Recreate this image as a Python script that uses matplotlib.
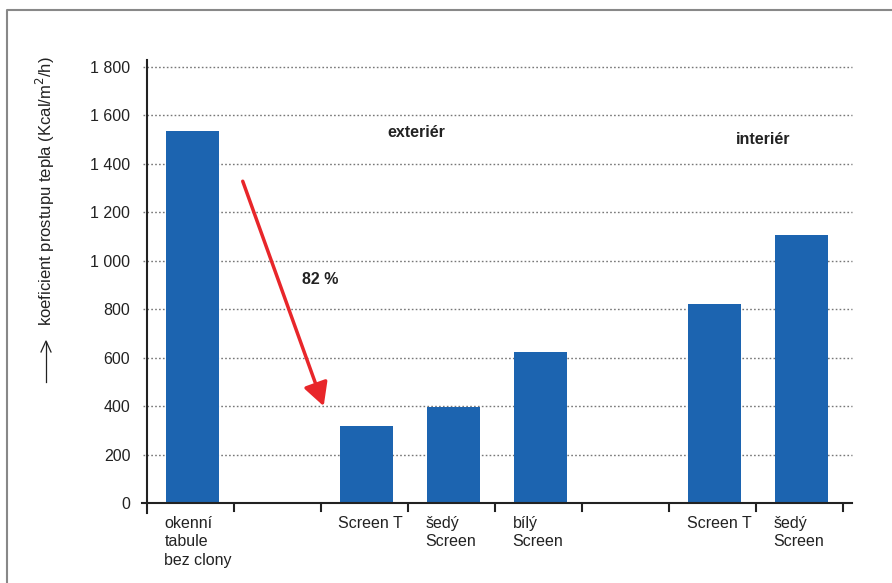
import numpy as np
import matplotlib.pyplot as plt
from matplotlib.lines import Line2D
from matplotlib.ticker import FuncFormatter

# data
labels = ["okenní\ntabule\nbez clony", "", "Screen T", "šedý\nScreen", "bílý\nScreen", "", "Screen T", "šedý\nScreen"]
values = [1535, 0, 320, 398, 625, 0, 820, 1105]
has_bar = [True, False, True, True, True, False, True, True]
yticks = [0, 200, 400, 600, 800, 1000, 1200, 1400, 1600, 1800]

bar_col = "#1c64b0"
fs = 11.5

plt.rcParams['font.family'] = ['Liberation Sans', 'DejaVu Sans']
fig = plt.figure(figsize=(8.92, 5.83), dpi=100)
ax = fig.add_axes([147/892, 1-522/583, (852-147)/892, (522-62)/583])

x = np.arange(len(values)) + 0.5
for xi, v, hb in zip(x, values, has_bar):
    if hb:
        ax.bar(xi + 0.02, v, width=0.61, color=bar_col, zorder=3)

ax.set_xlim(0, 8.1)
ax.set_ylim(-78, 1820)

# gridlines
for yt in yticks[1:]:
    ax.axhline(yt, xmin=-0.006, color="#777777", lw=1.0, ls=(0, (1.2, 1.6)), zorder=1, clip_on=False)
ax.axhline(0, xmin=-0.007, color="#222222", lw=1.5, zorder=4, clip_on=False)

for s in ["top", "right", "bottom"]:
    ax.spines[s].set_visible(False)
ax.spines["left"].set_bounds(-40, 1830)
ax.spines["left"].set_linewidth(1.5)
ax.spines["left"].set_color("#222222")

ax.set_yticks(yticks)
ax.yaxis.set_major_formatter(FuncFormatter(lambda v, p: f"{int(v):,}".replace(",", " ")))
ax.tick_params(axis="y", length=0, pad=12, labelsize=fs, labelcolor="#222222")

# x ticks at slot boundaries
ax.set_xticks([])
for b in range(1, 9):
    ax.plot([b, b], [-6, -34], color="#222222", lw=1.5, zorder=4, clip_on=False)

for xi, lab in zip(x, labels):
    if lab:
        ax.text(xi - 0.3, -52, lab, ha="left", va="top", fontsize=fs, color="#222222", linespacing=1.3)

# annotations
ax.text(3.09, 1531, "exteriér", ha="center", va="center", fontsize=fs, fontweight="bold", color="#222222")
ax.text(7.08, 1502, "interiér", ha="center", va="center", fontsize=fs, fontweight="bold", color="#222222")
ax.text(1.99, 923, "82 %", ha="center", va="center", fontsize=fs, fontweight="bold", color="#222222")
ax.annotate("", xy=(2.03, 400), xytext=(1.10, 1328),
            arrowprops=dict(arrowstyle="-|>,head_length=1.4,head_width=0.75", color="#e8262a", lw=2.5, shrinkA=0, shrinkB=0),
            zorder=5)

# y label with arrow
fig.text(45/892, 1-191/583, "koeficient prostupu tepla (Kcal/m$^2$/h)", rotation=90,
         ha="center", va="center", fontsize=12, color="#222222")
fig.add_artist(Line2D([46/892, 46/892], [1-382/583, 1-342/583], color="#222222", lw=0.9))
fig.add_artist(Line2D([41/892, 46/892, 51/892], [1-352/583, 1-341/583, 1-352/583], color="#222222", lw=0.9))

# frame
fig.add_artist(Line2D([7/892, 7/892, 1], [0, 1-10/583, 1-10/583], color="#888888", lw=1.5))

fig.savefig("out.png", dpi=100)
